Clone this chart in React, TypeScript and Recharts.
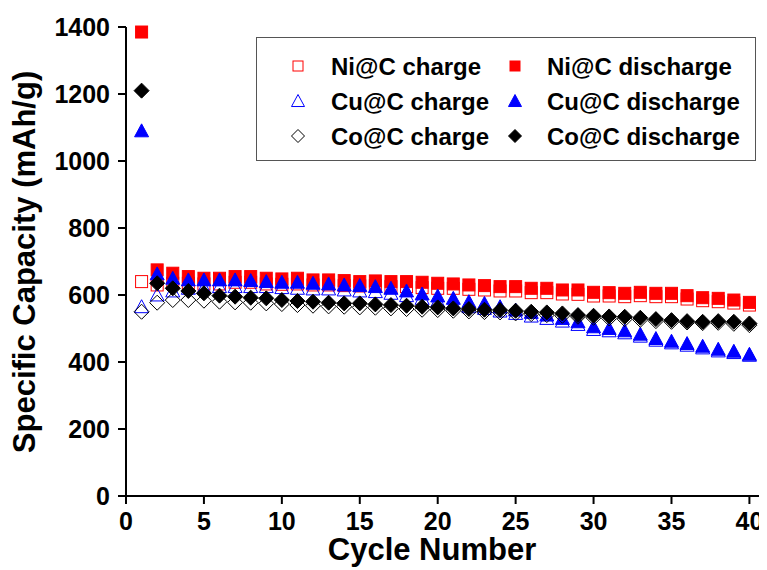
import { ScatterChart, Scatter, XAxis, YAxis, Legend } from 'recharts'

const cycles = [1, 2, 3, 4, 5, 6, 7, 8, 9, 10, 11, 12, 13, 14, 15, 16, 17, 18, 19, 20, 21, 22, 23, 24, 25, 26, 27, 28, 29, 30, 31, 32, 33, 34, 35, 36, 37, 38, 39, 40]

const niCharge = [640, 630, 635, 635, 633, 633, 638, 638, 633, 632, 633, 630, 630, 628, 627, 628, 625, 625, 622, 620, 620, 617, 615, 612, 612, 607, 607, 603, 602, 597, 597, 595, 598, 595, 595, 588, 583, 580, 576, 570]
const niDischarge = [1385, 675, 665, 655, 650, 650, 655, 655, 650, 648, 650, 645, 645, 643, 640, 642, 640, 640, 638, 635, 633, 630, 628, 625, 625, 620, 620, 615, 615, 608, 607, 605, 608, 605, 605, 598, 592, 590, 585, 578]
const cuCharge = [565, 600, 612, 620, 622, 625, 625, 625, 625, 622, 620, 618, 618, 615, 612, 610, 605, 598, 590, 582, 575, 565, 560, 552, 545, 537, 530, 522, 512, 497, 493, 487, 477, 465, 457, 450, 442, 433, 428, 420]
const cuDischarge = [1090, 663, 650, 645, 645, 645, 645, 643, 640, 638, 638, 635, 633, 630, 628, 625, 620, 612, 603, 597, 590, 580, 575, 565, 555, 548, 540, 530, 520, 505, 500, 493, 483, 470, 462, 455, 447, 438, 432, 423]
const coCharge = [550, 577, 585, 585, 583, 580, 578, 577, 575, 573, 570, 568, 566, 565, 563, 562, 560, 558, 556, 555, 553, 551, 549, 548, 545, 543, 540, 538, 535, 532, 530, 528, 526, 522, 520, 518, 516, 517, 514, 510]
const coDischarge = [1210, 635, 620, 612, 605, 598, 595, 592, 590, 585, 582, 580, 577, 575, 575, 572, 570, 568, 565, 563, 560, 558, 556, 555, 553, 550, 548, 545, 540, 538, 536, 535, 532, 528, 525, 522, 520, 522, 520, 515]

const xTicks = [0, 5, 10, 15, 20, 25, 30, 35, 40]
const xMinorTicks = [2.5, 7.5, 12.5, 17.5, 22.5, 27.5, 32.5, 37.5]
const yTicks = [0, 200, 400, 600, 800, 1000, 1200, 1400]
const yMinorTicks = [100, 300, 500, 700, 900, 1100, 1300]

const FONT = 'Arial, "Liberation Sans", sans-serif'
const RED = '#ff0000'
const BLUE = '#0000ff'

// chart sits at the body's 8px margin; sizes chosen so the plot box lands on the reference
const W = 759
const H = 562
const MAJOR = 8
const MINOR = 5
const GAP = 8

const toPoints = (vals: number[]) => cycles.map((c, i) => ({ x: c, y: vals[i] }))

type Kind = 'square' | 'triangle' | 'diamond'

function glyph(kind: Kind, cx: number, cy: number, s: number, color: string, filled: boolean) {
  const fill = filled ? color : '#fff'
  const fillOpacity = filled ? 1 : 0
  const h = s / 2
  if (kind === 'square') {
    return <rect x={cx - h} y={cy - h} width={s} height={s} fill={fill} fillOpacity={fillOpacity} stroke={color} strokeWidth={1} />
  }
  if (kind === 'triangle') {
    const pts = `${cx},${cy - h} ${cx + h},${cy + h * 0.85} ${cx - h},${cy + h * 0.85}`
    return <polygon points={pts} fill={fill} fillOpacity={fillOpacity} stroke={color} strokeWidth={1} />
  }
  const pts = `${cx},${cy - h} ${cx + h},${cy} ${cx},${cy + h} ${cx - h},${cy}`
  return <polygon points={pts} fill={fill} fillOpacity={fillOpacity} stroke={color} strokeWidth={1} />
}

const shape = (kind: Kind, color: string, filled: boolean, s: number) => (p: any) => glyph(kind, p.cx, p.cy, s, color, filled)

// tick marks drawn by hand so major/minor lengths and weight match the reference
const xTick = (size: number, withLabel: boolean) => (p: any) => {
  const top = p.y - GAP - size
  return (
    <g>
      <line x1={p.x} x2={p.x} y1={top} y2={top + size} stroke="#000" strokeWidth={2} />
      {withLabel && (
        <text x={p.x} y={p.y} dy="0.71em" textAnchor="middle" fontFamily={FONT} fontWeight="bold" fontSize={25} fill="#000">
          {p.payload.value}
        </text>
      )}
    </g>
  )
}

const yTick = (size: number, withLabel: boolean) => (p: any) => {
  const right = p.x + GAP + size
  return (
    <g>
      <line x1={right - size} x2={right} y1={p.y} y2={p.y} stroke="#000" strokeWidth={2} />
      {withLabel && (
        <text x={p.x} y={p.y} dy="0.355em" textAnchor="end" fontFamily={FONT} fontWeight="bold" fontSize={25} fill="#000">
          {p.payload.value}
        </text>
      )}
    </g>
  )
}

const legendRows: { kind: Kind; color: string; name: string }[] = [
  { kind: 'square', color: RED, name: 'Ni@C' },
  { kind: 'triangle', color: BLUE, name: 'Cu@C' },
  { kind: 'diamond', color: '#000', name: 'Co@C' },
]

function LegendBox() {
  const size = (k: Kind) => (k === 'square' ? 10 : 13)
  const icon = (k: Kind, color: string, filled: boolean, left: number) => (
    <svg width={16} height={16} style={{ position: 'absolute', left: left - 8, top: 9 }}>
      {glyph(k, 8, 8, size(k), color, filled)}
    </svg>
  )
  const label = (text: string, left: number) => (
    <div style={{ position: 'absolute', left, top: 0, lineHeight: '35px', whiteSpace: 'nowrap' }}>{text}</div>
  )
  return (
    <div
      style={{
        position: 'relative',
        boxSizing: 'border-box',
        width: 500,
        height: 124,
        border: '1.5px solid #555',
        background: '#fff',
        fontFamily: FONT,
        fontWeight: 'bold',
        fontSize: 24,
        color: '#000',
      }}
    >
      {legendRows.map((r, i) => (
        <div key={r.name} style={{ position: 'absolute', left: 0, top: 11 + i * 35, width: 496, height: 35 }}>
          {icon(r.kind, r.color, false, 41)}
          {label(`${r.name} charge`, 74)}
          {icon(r.kind, r.color, true, 258)}
          {label(`${r.name} discharge`, 290)}
        </div>
      ))}
    </div>
  )
}

export default function App() {
  return (
    <ScatterChart width={W} height={H} margin={{ top: 19, right: 2, left: 0, bottom: 0 }}>
      <XAxis
        xAxisId="minor"
        dataKey="x"
        type="number"
        domain={[0, 41]}
        ticks={xMinorTicks}
        interval={0}
        height={0}
        tick={xTick(MINOR, false)}
        tickSize={MINOR}
        tickMargin={GAP}
        tickLine={false}
        axisLine={false}
      />
      <XAxis
        dataKey="x"
        type="number"
        domain={[0, 41]}
        ticks={xTicks}
        interval={0}
        height={74}
        tickSize={MAJOR}
        tickMargin={GAP}
        tick={xTick(MAJOR, true)}
        tickLine={false}
        axisLine={{ stroke: '#000', strokeWidth: 2 }}
        label={() => (
          <text x={424} y={552} textAnchor="middle" fontFamily={FONT} fontWeight="bold" fontSize={31} fill="#000">
            Cycle Number
          </text>
        )}
      />
      <XAxis
        xAxisId="top"
        orientation="top"
        dataKey="x"
        type="number"
        domain={[0, 41]}
        height={0}
        tick={false}
        tickLine={false}
        axisLine={{ stroke: '#999', strokeWidth: 1.5 }}
      />
      <YAxis
        yAxisId="minor"
        dataKey="y"
        type="number"
        domain={[0, 1400]}
        ticks={yMinorTicks}
        interval={0}
        width={0}
        tick={yTick(MINOR, false)}
        tickSize={MINOR}
        tickMargin={GAP}
        tickLine={false}
        axisLine={false}
      />
      <YAxis
        dataKey="y"
        type="number"
        domain={[0, 1400]}
        ticks={yTicks}
        interval={0}
        width={118}
        tickSize={MAJOR}
        tickMargin={GAP}
        tick={yTick(MAJOR, true)}
        tickLine={false}
        axisLine={{ stroke: '#000', strokeWidth: 2 }}
        label={() => (
          <text
            x={27}
            y={254}
            transform="rotate(-90, 27, 254)"
            textAnchor="middle"
            fontFamily={FONT}
            fontWeight="bold"
            fontSize={31}
            fill="#000"
          >
            Specific Capacity (mAh/g)
          </text>
        )}
      />
      <YAxis
        yAxisId="right"
        orientation="right"
        dataKey="y"
        type="number"
        domain={[0, 1400]}
        width={0}
        tick={false}
        tickLine={false}
        axisLine={{ stroke: '#999', strokeWidth: 1.5 }}
      />
      <Legend
        layout="vertical"
        align="center"
        verticalAlign="middle"
        wrapperStyle={{ position: 'absolute', left: 248, top: 29, width: 500, height: 124 }}
        content={() => <LegendBox />}
      />
      <Scatter name="Ni@C charge" data={toPoints(niCharge)} shape={shape('square', RED, false, 12)} isAnimationActive={false} />
      <Scatter name="Ni@C discharge" data={toPoints(niDischarge)} shape={shape('square', RED, true, 12)} isAnimationActive={false} />
      <Scatter name="Cu@C charge" data={toPoints(cuCharge)} shape={shape('triangle', BLUE, false, 14)} isAnimationActive={false} />
      <Scatter name="Cu@C discharge" data={toPoints(cuDischarge)} shape={shape('triangle', BLUE, true, 14)} isAnimationActive={false} />
      <Scatter name="Co@C charge" data={toPoints(coCharge)} shape={shape('diamond', '#000', false, 15)} isAnimationActive={false} />
      <Scatter name="Co@C discharge" data={toPoints(coDischarge)} shape={shape('diamond', '#000', true, 15)} isAnimationActive={false} />
    </ScatterChart>
  )
}
